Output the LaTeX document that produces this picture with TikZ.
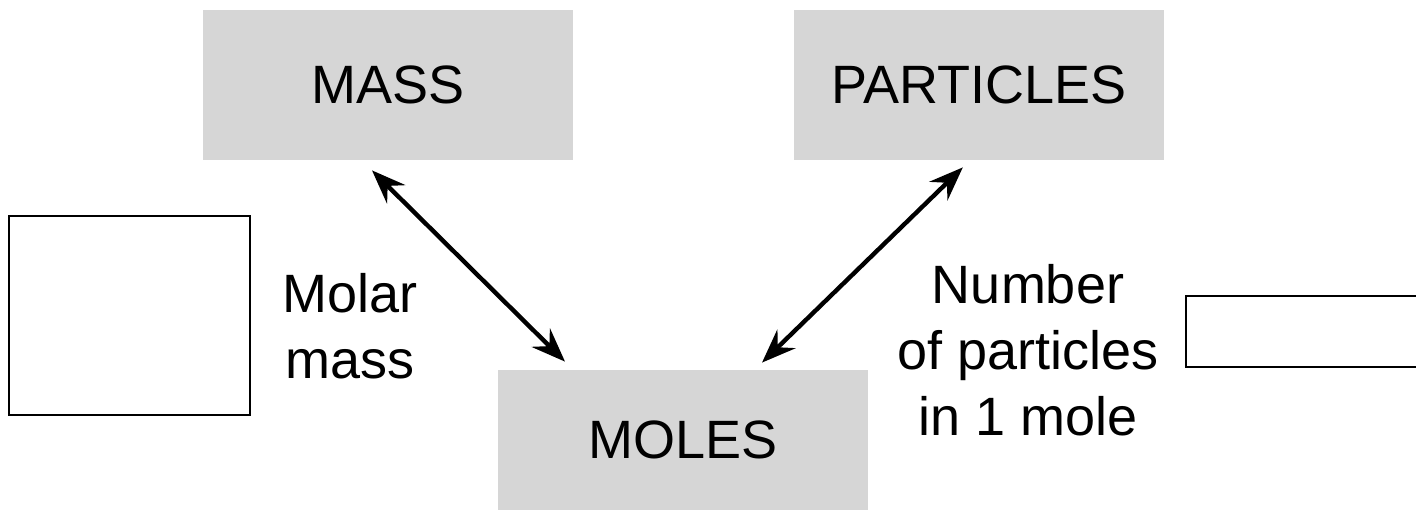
\documentclass[tikz,border=0pt]{standalone}
\usepackage{fontspec}
\setmainfont{Liberation Sans}
\usepackage{tikz}
\usetikzlibrary{arrows.meta,positioning}
\definecolor{qtygray}{RGB}{214,214,214}

\begin{document}
\begin{tikzpicture}[x=0.5pt,y=-0.5pt,>={Stealth[length=17pt,width=13pt,inset=6pt]},
    font=\fontsize{27}{33}\selectfont,every node/.style={align=center},
    qtybox/.style={fill=qtygray,inner sep=0pt,minimum width=185pt},
    blankbox/.style={draw,line width=1pt,inner sep=0pt},
    link/.style={<->,line width=2.2pt}]
    \useasboundingbox (0,0) rectangle (1416,514);
    % the three quantities
    \node[qtybox,minimum height=75pt] (mass) at (388,85) {MASS};
    \node[qtybox,minimum height=75pt,right=110pt of mass] (particles) {PARTICLES};
    \node[qtybox,minimum height=70pt] (moles) at (683,440) {MOLES};
    % empty answer boxes
    \node[blankbox,minimum width=120.5pt,minimum height=99.5pt] (leftbox) at (129.5,315.5) {};
    \node[blankbox,minimum width=125pt,minimum height=35.5pt,anchor=west] (rightbox) at (1185,331.5) {};
    % conversion factors
    \node (molar) at (350,326) {Molar\\mass};
    \node (avogadro) at (1028,350) {Number\\of particles\\in 1 mole};
    \draw[link] ([xshift=-8pt,yshift=-5pt]mass.south) -- ([xshift=-59pt,yshift=4pt]moles.north);
    \draw[link] ([xshift=-8pt,yshift=-3.5pt]particles.south) -- ([xshift=39.5pt,yshift=3.5pt]moles.north);
\end{tikzpicture}
\end{document}
